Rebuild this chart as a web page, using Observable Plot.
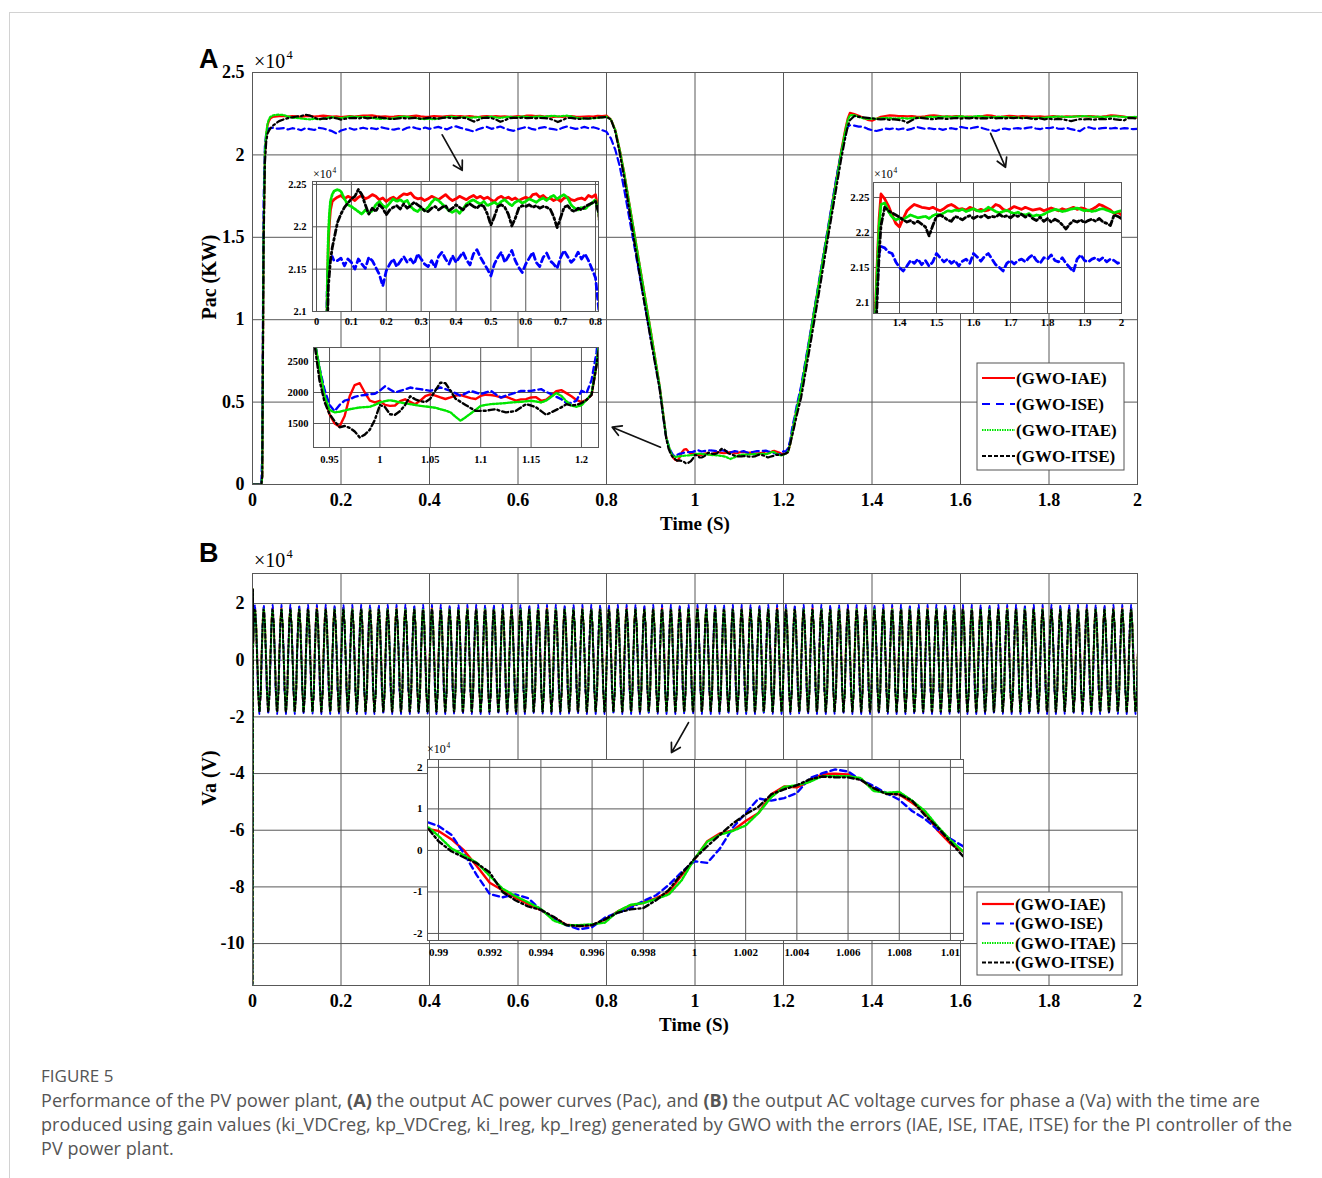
<!DOCTYPE html>
<html>
<head>
<meta charset="utf-8">
<script src="https://cdn.jsdelivr.net/npm/d3@7"></script>
<script src="https://cdn.jsdelivr.net/npm/@observablehq/plot@0.6"></script>
<style>
  html, body { margin: 0; padding: 0; background: #fff; }
  #page { position: relative; width: 1322px; height: 1178px; overflow: hidden; background: #fff; }
  #border { position: absolute; left: 9px; top: 12px; right: -2px; bottom: -2px; border-top: 1px solid #d2d2d2; border-left: 1px solid #d2d2d2; }
  #caption { position: absolute; left: 41px; top: 1063px; font-family: "Open Sans", "Noto Sans", sans-serif; font-size: 18px; line-height: 24px; color: #555; white-space: nowrap; letter-spacing: 0.06px; }
  #caption .fig { font-size: 17px; letter-spacing: 0; }
  #caption b { font-weight: 700; }
</style>
</head>
<body>
<div id="page">
  <div id="border"></div>
  <div id="caption"><span class="fig">FIGURE 5</span><br>Performance of the PV power plant, <b>(A)</b> the output AC power curves (Pac), and <b>(B)</b> the output AC voltage curves for phase a (Va) with the time are<br>produced using gain values (ki_VDCreg, kp_VDCreg, ki_Ireg, kp_Ireg) generated by GWO with the errors (IAE, ISE, ITAE, ITSE) for the PI controller of the<br>PV power plant.</div>
</div>
<script>
// ---------------- DATA ----------------
const seriesNames = ["(GWO-IAE)", "(GWO-ISE)", "(GWO-ITAE)", "(GWO-ITSE)"];

// time grid of panel A (s)
const tA = [].concat(
  [0, 0.02, 0.022, 0.025, 0.028, 0.031, 0.034, 0.037, 0.04, 0.045, 0.05],
  d3.range(75).map(i => +(0.06 + 0.01 * i).toFixed(3)),
  [0.81, 0.82, 0.83, 0.84, 0.86, 0.88, 0.90, 0.92, 0.93, 0.935],
  d3.range(56).map(i => +(0.94 + 0.005 * i).toFixed(3)),
  [1.22, 1.225, 1.23, 1.24, 1.26, 1.28, 1.30, 1.32, 1.33, 1.34, 1.345, 1.35],
  d3.range(65).map(i => +(1.36 + 0.01 * i).toFixed(3))
);

// Pac (KW)
const pacIAE = [
  0,0,500,15000,20000,21200,21800,22050,22200,22300,22320,
  22350,22370,22330,22360,22340,22310,22350,22370,22330,22350,
  22380,22360,22320,22340,22300,22330,22350,22320,22360,22390,
  22380,22400,22350,22330,22340,22310,22330,22360,22340,22320,
  22350,22380,22340,22310,22330,22360,22340,22320,22350,22370,
  22340,22360,22330,22350,22320,22300,22340,22360,22330,22350,
  22320,22340,22310,22330,22350,22330,22380,22390,22350,22370,
  22330,22340,22310,22330,22300,22340,22350,22320,22310,22330,
  22340,22320,22370,22350,22380,
  22150,21500,20300,18900,15700,12500,9300,6000,3900,2850,
  2350,1950,1650,1500,1450,1620,1940,2120,2150,2000,
  1870,1840,1866,1800,1785,1790,1860,1890,1850,1810,
  1870,1940,1970,1950,1920,1895,1920,1950,1960,1935,
  1910,1895,1945,1965,1960,1946,1920,1935,1900,1870,
  1890,1892,1920,1925,1866,1885,1950,2020,2038,1990,
  1940,1880,1845,1880,1960,2450,
  3200,3900,4600,5800,9000,12200,15400,18600,20200,21600,22200,22550,
  22480,22380,22250,22130,22080,22200,22310,22360,22400,22380,
  22360,22350,22340,22360,22330,22310,22340,22380,22400,22370,
  22330,22340,22320,22360,22340,22310,22330,22310,22320,22350,
  22400,22380,22330,22310,22340,22370,22350,22330,22360,22340,
  22320,22330,22340,22310,22330,22350,22330,22310,22340,22320,
  22340,22360,22330,22350,22340,22310,22330,22360,22400,22380,
  22350,22320,22270,22290,22250
];
const pacISE = [
  0,0,2000,17000,20500,21300,21550,21600,21600,21650,21600,
  21600,21630,21540,21620,21580,21500,21620,21560,21510,21640,
  21600,21520,21440,21300,21480,21560,21620,21530,21590,21650,
  21580,21620,21560,21680,21620,21560,21530,21600,21520,21650,
  21700,21620,21560,21660,21580,21640,21700,21610,21550,21680,
  21730,21640,21570,21500,21420,21560,21640,21700,21580,21650,
  21720,21600,21520,21460,21560,21630,21700,21580,21530,21640,
  21690,21600,21560,21510,21640,21720,21650,21580,21620,21700,
  21620,21680,21600,21500,21400,
  21000,20300,19300,17900,14900,11900,8900,5900,3800,2850,
  2400,2050,1800,1700,1800,1870,1890,1930,1950,1960,
  1973,1980,2030,2100,2050,2000,2025,2050,2080,2065,
  2054,2040,2027,2050,2081,2055,2027,1990,1946,1985,
  2027,2000,1973,2000,2027,1970,1919,1950,1973,2000,
  2027,2027,2027,2040,2054,2010,1973,1930,1892,1830,
  1830,1870,2027,1990,2200,2650,
  3500,4100,4800,6000,9100,12300,15500,18700,20100,21300,21700,21800,
  21780,21720,21700,21580,21500,21450,21520,21600,21560,21620,
  21540,21600,21520,21580,21700,21640,21580,21620,21560,21600,
  21520,21590,21620,21560,21700,21650,21590,21660,21700,21620,
  21540,21500,21450,21560,21600,21550,21600,21620,21580,21640,
  21680,21600,21560,21640,21620,21680,21600,21580,21640,21560,
  21500,21440,21620,21680,21600,21580,21620,21640,21600,21640,
  21580,21620,21600,21560,21580
];
const pacITAE = [
  0,0,500,15000,20200,21300,21900,22150,22300,22380,22420,
  22440,22420,22330,22260,22240,22210,22180,22150,22200,22160,
  22190,22260,22300,22250,22230,22280,22330,22300,22320,22290,
  22310,22240,22200,22180,22220,22190,22230,22290,22330,22310,
  22270,22230,22190,22170,22200,22160,22210,22270,22300,22320,
  22290,22270,22300,22250,22270,22290,22260,22300,22320,22280,
  22250,22290,22310,22280,22300,22330,22310,22290,22320,22340,
  22310,22350,22370,22330,22360,22380,22340,22260,22220,22200,
  22230,22210,22250,22280,22320,
  22150,21500,20300,18900,15700,12500,9300,6000,3900,2850,
  2400,1950,1720,1680,1690,1710,1730,1745,1758,1764,
  1769,1800,1839,1860,1875,1860,1840,1825,1812,1800,
  1785,1775,1765,1755,1730,1710,1680,1610,1545,1600,
  1660,1720,1785,1800,1812,1818,1823,1830,1839,1845,
  1849,1858,1866,1855,1839,1870,1930,1990,1946,1860,
  1790,1770,1795,1880,1980,2450,
  3200,3900,4600,5800,9000,12200,15400,18500,20100,21500,22100,22400,
  22420,22300,22220,22180,22200,22190,22220,22250,22230,22210,
  22220,22230,22200,22240,22260,22250,22280,22310,22300,22320,
  22310,22330,22300,22320,22340,22310,22300,22320,22360,22330,
  22300,22280,22300,22320,22290,22270,22290,22260,22250,22270,
  22230,22250,22240,22260,22290,22310,22330,22320,22300,22310,
  22330,22340,22350,22330,22310,22320,22300,22310,22330,22340,
  22320,22300,22280,22300,22310
];
const pacITSE = [
  0,0,500,14500,19500,20800,21300,21450,21600,21750,21850,
  22050,22150,22230,22280,22330,22360,22440,22380,22260,22150,
  22220,22180,22260,22220,22140,22200,22230,22250,22210,22270,
  22220,22250,22290,22260,22230,22190,22180,22220,22240,22200,
  22230,22250,22190,22220,22260,22230,22200,22250,22270,22240,
  22220,22260,22240,22150,22020,22120,22240,22260,22230,22150,
  22010,22100,22220,22250,22240,22260,22230,22250,22220,22240,
  22230,22210,22120,21990,22110,22230,22250,22200,22180,22220,
  22200,22240,22260,22280,22300,
  22150,21400,20100,18600,15200,11900,8800,5800,3750,2800,
  2200,1850,1650,1540,1440,1460,1430,1370,1275,1320,
  1400,1560,1800,1765,1650,1640,1700,1800,1940,1890,
  1860,1845,1900,2030,2160,2150,2030,1900,1850,1800,
  1750,1704,1704,1705,1720,1730,1700,1680,1690,1704,
  1760,1812,1790,1760,1700,1640,1680,1720,1760,1812,
  1790,1800,1830,1880,1960,2450,
  3000,3600,4200,5300,8400,11600,14900,18100,19700,21100,21700,22100,
  22360,22310,22280,22250,22220,22180,22150,22170,22130,22160,
  22120,22080,21950,22100,22230,22250,22220,22180,22160,22230,
  22210,22180,22220,22240,22200,22230,22220,22250,22210,22230,
  22220,22260,22220,22240,22210,22250,22230,22260,22220,22250,
  22200,22170,22220,22160,22200,22150,22190,22160,22110,22050,
  22120,22170,22150,22180,22140,22170,22190,22160,22200,22150,
  22130,22100,22250,22230,22200
];

// Va (x10^4 V): one period (0.9896 ... 1.0105 s)
const tB = [0.98962].concat(d3.range(41).map(k => +(0.99 + 0.0005 * k).toFixed(4)), [1.01049]);
const vaIAE = [0.51,
  0.47,0.27,0.0,-0.38,-0.78,-0.96,-1.14,-1.29,-1.44,-1.62,
  -1.79,-1.82,-1.8,-1.67,-1.47,-1.33,-1.26,-1.15,-1.0,-0.6,
  -0.22,0.22,0.41,0.48,0.71,0.9,1.35,1.54,1.52,1.66,
  1.84,1.85,1.83,1.7,1.48,1.37,1.35,1.15,0.92,0.48,
  0.16, -0.02];
const vaISE = [0.67,
  0.59,0.38,-0.08,-0.6,-1.05,-1.13,-1.06,-1.15,-1.43,-1.65,
  -1.8,-1.9,-1.85,-1.62,-1.5,-1.39,-1.22,-1.08,-0.83,-0.52,
  -0.26,-0.3,0.05,0.55,0.9,1.25,1.2,1.26,1.38,1.74,
  1.86,1.95,1.9,1.7,1.55,1.38,1.22,0.95,0.76,0.5,
  0.28, 0.1];
const vaITAE = [0.55,
  0.35,0.05,-0.12,-0.3,-0.61,-0.92,-1.1,-1.25,-1.41,-1.69,
  -1.8,-1.8,-1.78,-1.74,-1.47,-1.31,-1.27,-1.17,-1.06,-0.72,
  -0.2,0.21,0.38,0.47,0.6,0.9,1.28,1.53,1.57,1.65,
  1.79,1.79,1.79,1.74,1.43,1.39,1.41,1.2,0.95,0.58,
  0.25, -0.02];
const vaITSE = [0.51,
  0.22,-0.02,-0.17,-0.31,-0.53,-1.0,-1.2,-1.35,-1.43,-1.6,
  -1.8,-1.82,-1.8,-1.66,-1.5,-1.42,-1.39,-1.2,-0.95,-0.56,
  -0.2,0.1,0.38,0.65,0.87,1.05,1.35,1.47,1.57,1.71,
  1.78,1.76,1.76,1.7,1.5,1.36,1.35,1.2,0.85,0.56,
  0.2, -0.14];
// start-up transient of Va (x10^4 V)
const vaStart = [-12, 2.5];
const vaStartISE = [-12, 2.25];

// ticks
const xTicksMain = [0, 0.2, 0.4, 0.6, 0.8, 1, 1.2, 1.4, 1.6, 1.8, 2];
const yTicksA = [0, 5000, 10000, 15000, 20000, 25000];
const yTicksB = [-10, -8, -6, -4, -2, 0, 2];
const xTicksIn1 = [0, 0.1, 0.2, 0.3, 0.4, 0.5, 0.6, 0.7, 0.8];
const yTicksIn1 = [21000, 21500, 22000, 22500];
const xTicksIn2 = [0.95, 1, 1.05, 1.1, 1.15, 1.2];
const yTicksIn2 = [1500, 2000, 2500];
const xTicksIn3 = [1.4, 1.5, 1.6, 1.7, 1.8, 1.9, 2];
const yTicksIn3 = [21000, 21500, 22000, 22500];
const xTicksInB = [0.99, 0.992, 0.994, 0.996, 0.998, 1, 1.002, 1.004, 1.006, 1.008, 1.01];
const yTicksInB = [-2, -1, 0, 1, 2];

// annotation arrows (data coordinates)
const arrowsA = [
  {x1: 0.4287, y1: 21220, x2: 0.4739, y2: 19060},
  {x1: 1.668, y1: 21310, x2: 1.7017, y2: 19250},
  {x1: 0.922, y1: 2263, x2: 0.8129, y2: 3477}
];
const arrowsB = [{x1: 0.9853, y1: -2.2, x2: 0.9469, y2: -3.26}];

// ---------------- STYLE ----------------
const SERIF = "'Liberation Serif', 'Times New Roman', serif";
const GRID = "#585858";
const colors = ["#ff0000", "#0000ff", "#00e600", "#000000"];
const page = document.getElementById("page");
const fmt = d => d3.format("~g")(d).replace("\u2212", "-");

function lineMarks(t, arrs, w, dashes) {
  return arrs.map((a, j) => Plot.lineY(a, {x: t, stroke: colors[j], strokeWidth: w, strokeDasharray: dashes[j], clip: true}));
}

function panel({frame, margins, xDomain, yDomain, xTicks, yTicks, xFmt, yFmt, fontSize, padX, padY, opaque, marks}) {
  const [L, T, R, B] = frame;
  const [ml, mt, mr, mb] = margins;
  const chart = Plot.plot({
    width: R - L + ml + mr,
    height: B - T + mt + mb,
    marginLeft: ml, marginTop: mt, marginRight: mr, marginBottom: mb,
    style: {background: "transparent", fontFamily: SERIF, fontWeight: "bold", fontSize: fontSize + "px", color: "#000", overflow: "visible"},
    x: {domain: xDomain, ticks: xTicks, tickFormat: xFmt || fmt, tickSize: 0, tickPadding: padX, label: null},
    y: {domain: yDomain, ticks: yTicks, tickFormat: yFmt || fmt, tickSize: 0, tickPadding: padY, label: null},
    marks: [
      opaque ? Plot.frame({fill: "white", stroke: "none"}) : null,
      Plot.gridX(xTicks, {stroke: GRID, strokeOpacity: 1, strokeWidth: 1}),
      Plot.gridY(yTicks, {stroke: GRID, strokeOpacity: 1, strokeWidth: 1}),
      ...marks,
      Plot.frame({stroke: GRID, strokeWidth: 1})
    ]
  });
  chart.style.position = "absolute";
  chart.style.left = (L - ml) + "px";
  chart.style.top = (T - mt) + "px";
  page.appendChild(chart);
  return chart;
}

const pac = [pacIAE, pacISE, pacITAE, pacITSE];
const dashMain = [null, "7,4", "2,2", "7,3,2,3"];
const dashIn = [null, "6,4", "2,1.6", "6,3,2,3"];

// ---------------- PANEL A ----------------
panel({
  frame: [252, 72, 1137, 484], margins: [70, 20, 20, 40],
  xDomain: [0, 2], yDomain: [0, 25000], xTicks: xTicksMain, yTicks: yTicksA,
  yFmt: d => fmt(d / 1e4), fontSize: 18, padX: 9, padY: 8, opaque: false,
  marks: [
    ...lineMarks(tA, pac, 2.2, dashMain),
    Plot.arrow(arrowsA, {x1: "x1", y1: "y1", x2: "x2", y2: "y2", stroke: "#111", strokeWidth: 1.7, headLength: 9})
  ]
});
// inset 1 (start-up plateau)
panel({
  frame: [312, 181, 598, 311], margins: [36, 4, 4, 22],
  xDomain: [-0.0115, 0.8086], yDomain: [21000, 22535], xTicks: xTicksIn1, yTicks: yTicksIn1,
  yFmt: d => fmt(d / 1e4), fontSize: 10.5, padX: 6, padY: 6, opaque: true,
  marks: lineMarks(tA, pac, 2.8, dashIn)
});
// inset 2 (low-power plateau)
panel({
  frame: [313, 347, 598, 447], margins: [36, 4, 4, 22],
  xDomain: [0.9341, 1.2169], yDomain: [1113, 2726], xTicks: xTicksIn2, yTicks: yTicksIn2,
  fontSize: 10.5, padX: 8, padY: 5, opaque: true,
  marks: lineMarks(tA, pac, 2.4, dashIn)
});
// inset 3 (second plateau)
panel({
  frame: [873, 182, 1121, 313], margins: [36, 4, 8, 22],
  xDomain: [1.3297, 2.0], yDomain: [20843, 22714], xTicks: xTicksIn3, yTicks: yTicksIn3,
  yFmt: d => fmt(d / 1e4), fontSize: 11, padX: 5, padY: 4, opaque: true,
  marks: lineMarks(tA, pac, 2.8, dashIn)
});

// ---------------- PANEL B ----------------
const va = [vaIAE, vaISE, vaITAE, vaITSE];
const vaMain = va.map((vals, j) => {
  const st = j === 1 ? vaStartISE : vaStart;
  const pts = [{t: 0, v: st[0]}, {t: 0.0012, v: st[1]}];
  for (let q = 0; q <= 100; q++) {
    for (let i = 1; i <= 40; i++) {
      const t = tB[i] - 1 + 0.02 * q;
      if (t > 0.0015 && t <= 2.0005) pts.push({t, v: vals[i]});
    }
  }
  return pts;
});
const dashB = [null, "4,3", "1.5,1.5", "4,2.5,1.5,2.5"];
const widthB = [1.8, 1.8, 1.8, 1.9];
panel({
  frame: [252, 573, 1137, 985], margins: [70, 10, 20, 40],
  xDomain: [0, 2], yDomain: [-11.48, 3.06], xTicks: xTicksMain, yTicks: yTicksB,
  fontSize: 18, padX: 9, padY: 8, opaque: false,
  marks: [
    ...vaMain.map((pts, j) => Plot.line(pts, {x: "t", y: "v", stroke: colors[j], strokeWidth: widthB[j], strokeDasharray: dashB[j], clip: true})),
    Plot.arrow(arrowsB, {x1: "x1", y1: "y1", x2: "x2", y2: "y2", stroke: "#111", strokeWidth: 1.7, headLength: 9})
  ]
});
panel({
  frame: [427, 759, 963, 940], margins: [30, 4, 8, 22],
  xDomain: [0.98957, 1.01051], yDomain: [-2.17, 2.19], xTicks: xTicksInB, yTicks: yTicksInB,
  fontSize: 11, padX: 8, padY: 5, opaque: true,
  marks: lineMarks(tB, va, 2.4, dashIn)
});

// ---------------- LEGENDS ----------------
function legend(left, top, w, h, rowY, lineX1, lineX2, textX) {
  const svg = d3.create("svg").attr("width", w + 2).attr("height", h + 2)
    .style("position", "absolute").style("left", (left - 1) + "px").style("top", (top - 1) + "px");
  svg.append("rect").attr("x", 1).attr("y", 1).attr("width", w).attr("height", h)
    .attr("fill", "white").attr("stroke", "#555").attr("stroke-width", 1);
  const legDash = [null, "8,6", "1.5,1", "4,2"];
  seriesNames.forEach((name, j) => {
    const y = rowY[j] - top + 1;
    svg.append("line").attr("x1", lineX1 - left + 1).attr("x2", lineX2 - left + 1).attr("y1", y).attr("y2", y)
      .attr("stroke", colors[j]).attr("stroke-width", 2.2).attr("stroke-dasharray", legDash[j]);
    svg.append("text").attr("x", textX - left + 1).attr("y", y + 5.8).text(name)
      .attr("font-family", SERIF).attr("font-weight", "bold").attr("font-size", 17).attr("fill", "#000");
  });
  page.appendChild(svg.node());
}
legend(977, 363, 147, 107, [378, 404, 430, 456], 982, 1015, 1016);
legend(977, 892, 145, 83, [904, 923.5, 943, 962.5], 982, 1014, 1015);

// ---------------- TEXT OVERLAY ----------------
const ov = d3.create("svg").attr("width", 1322).attr("height", 1178)
  .style("position", "absolute").style("left", "0px").style("top", "0px").style("pointer-events", "none");
function txt(x, y, s, size, opts = {}) {
  const t = ov.append("text").attr("x", x).attr("y", y).text(s)
    .attr("font-family", opts.family || SERIF).attr("font-size", size)
    .attr("font-weight", opts.weight || "normal").attr("fill", "#000")
    .attr("text-anchor", opts.anchor || "start");
  if (opts.rotate) t.attr("transform", `rotate(-90 ${x} ${y})`);
  return t;
}
function times10(x, y, size) {
  txt(x, y, "\u00d710", size);
  txt(x + size * 1.62, y - size * 0.45, "4", size * 0.62);
}
txt(199, 68, "A", 27, {family: "'Liberation Sans', Arial, sans-serif", weight: "bold"});
txt(199, 562, "B", 27, {family: "'Liberation Sans', Arial, sans-serif", weight: "bold"});
times10(254, 68, 20);
times10(254, 567, 20);
times10(313, 178, 12);
times10(874, 178, 12);
times10(427, 753, 12);
txt(695, 530, "Time (S)", 19, {weight: "bold", anchor: "middle"});
txt(694, 1031, "Time (S)", 19, {weight: "bold", anchor: "middle"});
txt(216, 277, "Pac (KW)", 20, {weight: "bold", anchor: "middle", rotate: true});
txt(216, 778, "Va (V)", 20, {weight: "bold", anchor: "middle", rotate: true});
page.appendChild(ov.node());
</script>
</body>
</html>
